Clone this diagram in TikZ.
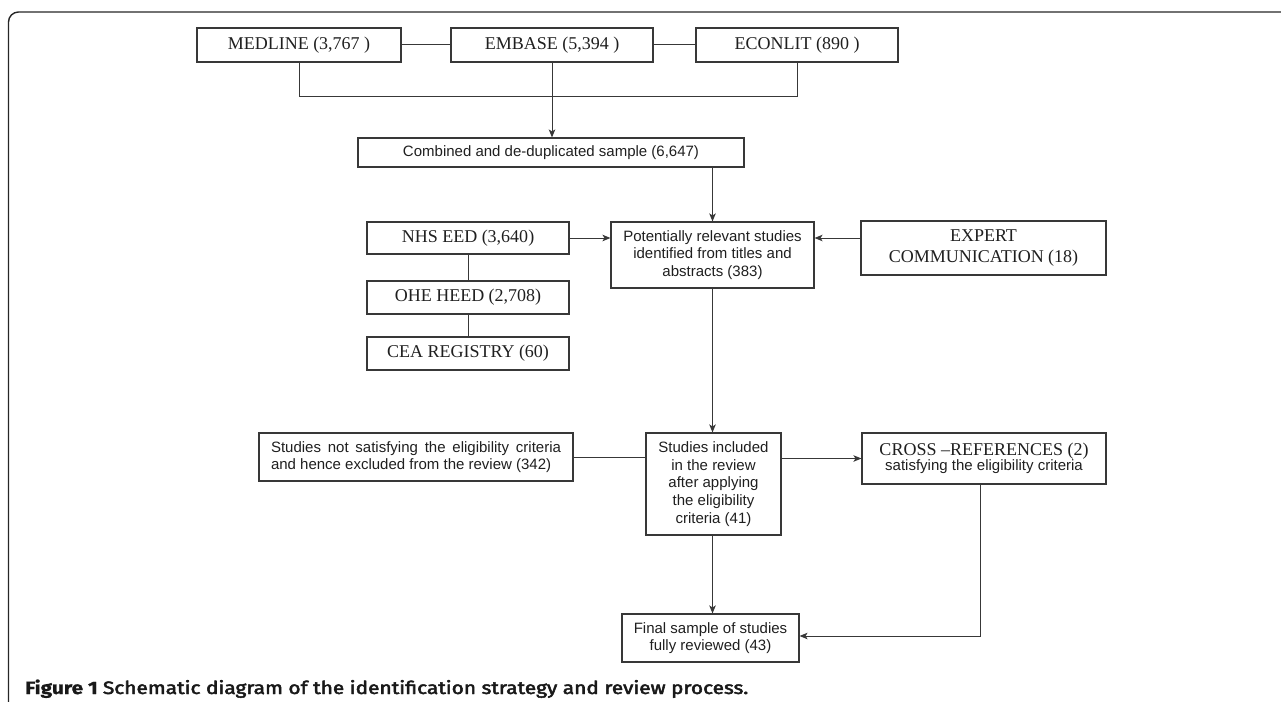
\documentclass[tikz,border=0pt]{standalone}
\usepackage{fontspec}
\setmainfont{Liberation Serif}
\setsansfont{Liberation Sans}
\newfontfamily\capbold[FakeBold=1]{Fira Sans Bold}
\newfontfamily\capmid[FakeBold=2.6]{Fira Sans}
\usetikzlibrary{arrows.meta,calc}
\definecolor{linecol}{gray}{0.22}
\definecolor{textcol}{gray}{0.12}
\tikzset{
  box/.style={draw=linecol, line width=1.1pt, inner sep=0pt, text=textcol, align=center},
  serifbox/.style={box, font=\rmfamily\fontsize{18}{21}\selectfont},
  sansbox/.style={box, font=\sffamily\fontsize{15}{17.6}\selectfont},
  conn/.style={draw=linecol, line width=1pt},
  arr/.style={conn, -{Stealth[length=8pt,width=6.5pt,inset=2pt]}},
  framecol/.style={draw=black!85, line width=1.4pt, rounded corners=10pt}
}
\begin{document}
\begin{tikzpicture}[x=1pt,y=-1pt]
\useasboundingbox (0,0) rectangle (1281,701);
\draw[framecol] (8.5,702) -- (8.5,12) -- (1282,12);

% top row
\node[serifbox, minimum width=204, minimum height=34] (medline) at (299,45) {MEDLINE (3,767 )};
\node[serifbox, minimum width=202, minimum height=34] (embase) at (552,45) {EMBASE (5,394 )};
\node[serifbox, minimum width=202, minimum height=34] (econlit) at (797,45) {ECONLIT (890 )};
\node[sansbox, minimum width=386, minimum height=29] (combined) at (551,152.5) {Combined and de-duplicated sample (6,647)};

% middle
\node[serifbox, minimum width=202, minimum height=32] (nhs) at (468,238) {NHS EED (3,640)};
\node[serifbox, minimum width=202, minimum height=33] (ohe) at (468,297.5) {OHE HEED (2,708)};
\node[serifbox, minimum width=202, minimum height=33] (cea) at (468,353.5) {CEA REGISTRY (60)};
\node[sansbox, minimum width=203, minimum height=66] (pot) at (712.5,255) {Potentially relevant studies\\identified from titles and\\abstracts (383)};
\node[serifbox, minimum width=245, minimum height=54] (expert) at (983.5,248) {EXPERT\\COMMUNICATION (18)};

% lower
\node[sansbox, minimum width=314, minimum height=48, align=left] (notsat) at (416,457) {\makebox[290pt][s]{Studies not satisfying the eligibility criteria}\\and hence excluded from the review (342)};
\node[sansbox, minimum width=135, minimum height=102] (incl) at (713.5,484) {Studies included\\in the review\\after applying\\the eligibility\\criteria (41)};
\node[box, minimum width=244, minimum height=51] (cross) at (984,458.5) {{\rmfamily\fontsize{18}{19}\selectfont CROSS --REFERENCES (2)}\\[-1pt]{\sffamily\fontsize{15}{17}\selectfont satisfying the eligibility criteria}};
\node[sansbox, minimum width=177, minimum height=48] (final) at (710.5,638) {Final sample of studies\\fully reviewed (43)};

% connectors
\draw[conn] (medline) -- (embase);
\draw[conn] (embase) -- (econlit);
\draw[conn] (medline.south) -- ++(0,34) -| (econlit.south);
\draw[arr] (embase.south) -- (combined.north -| embase.south);
\draw[arr] (pot.north |- combined.south) -- (pot.north);
\draw[arr] (nhs.east) -- (nhs.east -| pot.west);
\draw[arr] (expert.west |- nhs.east) -- (pot.east |- nhs.east);
\draw[conn] (nhs) -- (ohe);
\draw[conn] (ohe) -- (cea);
\draw[arr] (pot.south) -- (pot.south |- incl.north);
\draw[conn] (notsat.east) -- (notsat.east -| incl.west);
\draw[arr] (incl.east |- cross.west) -- (cross.west);
\draw[arr] (pot.south |- incl.south) -- (pot.south |- final.north);
\draw[arr] (cross.south -| 980,0) -- (980,636) -- (final.east |- 0,636);

% caption
\node[anchor=base west, inner sep=0pt, text=black!90] (caption) at (25,694) {\resizebox{723pt}{14.5pt}{{\capbold Figure 1} {\capmid Schematic diagram of the identification strategy and review process.}}};
\end{tikzpicture}
\end{document}
